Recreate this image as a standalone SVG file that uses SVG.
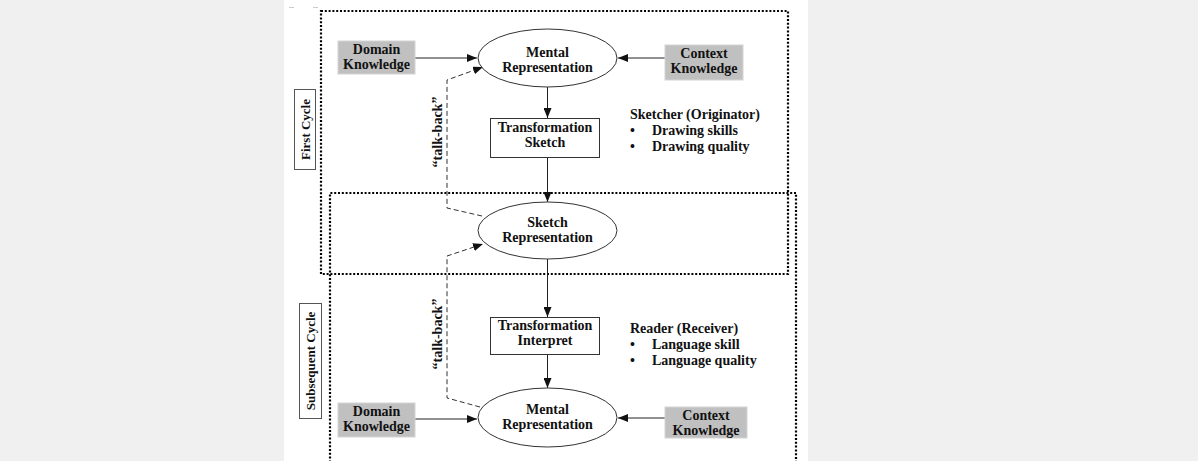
<svg xmlns="http://www.w3.org/2000/svg" width="1198" height="461" viewBox="0 0 1198 461">
  <defs>
    <marker id="arr" viewBox="0 0 10 8" refX="10" refY="4" markerWidth="10" markerHeight="8" markerUnits="userSpaceOnUse" orient="auto">
      <path d="M0,0 L10,4 L0,8 z" fill="#111"/>
    </marker>
    <style>
      text { font-family: "Liberation Serif", "Times New Roman", serif; font-weight: bold; font-size: 14px; fill: #111; }
      .small { font-size: 13px; }
      .mid { text-anchor: middle; }
      .gray { fill: #c0c0c0; stroke: #d4d4d4; stroke-width: 1; }
      .node { fill: #fff; stroke: #333; stroke-width: 1; }
      .dot { fill: none; stroke: #000; stroke-width: 2.2; stroke-dasharray: 2 1.8; }
      .line { fill: none; stroke: #222; stroke-width: 1; }
      .dash { fill: none; stroke: #333; stroke-width: 1; stroke-dasharray: 5 3; }
    </style>
  </defs>

  <!-- page background -->
  <rect x="0" y="0" width="1198" height="461" fill="#f0f0f0"/>
  <rect x="284" y="0" width="524" height="461" fill="#fff"/>
  <line x1="289" y1="7.5" x2="294" y2="7.5" stroke="#ccc" stroke-width="1"/>
  <line x1="313" y1="7.5" x2="318" y2="7.5" stroke="#ccc" stroke-width="1"/>

  <!-- cycle frames -->
  <g id="cycle-frames">
    <rect class="dot" x="321" y="11" width="467" height="263"/>
    <path class="dot" d="M330,470 V193 H796 V470"/>
  </g>

  <g id="label-first-cycle">
    <rect x="294.5" y="89.5" width="21" height="80" fill="#fff" stroke="#555"/>
    <text class="mid small" transform="translate(309.5,129.5) rotate(-90)">First Cycle</text>
  </g>
  <g id="label-subsequent-cycle">
    <rect x="299.5" y="303.5" width="22" height="115" fill="#fff" stroke="#555"/>
    <text class="mid small" transform="translate(315,361) rotate(-90)">Subsequent Cycle</text>
  </g>

  <!-- connectors -->
  <g id="connectors">
    <line class="line" x1="415" y1="58" x2="477" y2="58" marker-end="url(#arr)"/>
    <line class="line" x1="665" y1="58" x2="618" y2="58" marker-end="url(#arr)"/>
    <line class="line" x1="547.5" y1="87" x2="547.5" y2="118" marker-end="url(#arr)"/>
    <line class="line" x1="547.5" y1="158" x2="547.5" y2="202" marker-end="url(#arr)"/>
    <line class="line" x1="547.5" y1="259" x2="547.5" y2="317" marker-end="url(#arr)"/>
    <line class="line" x1="547.5" y1="354" x2="547.5" y2="388" marker-end="url(#arr)"/>
    <line class="line" x1="415" y1="419" x2="477" y2="419" marker-end="url(#arr)"/>
    <line class="line" x1="665" y1="418" x2="618" y2="418" marker-end="url(#arr)"/>
    <path class="dash" d="M482,216 L447,208 V80 L483,67" marker-end="url(#arr)"/>
    <path class="dash" d="M480,407 L447,398 V256 L483,244" marker-end="url(#arr)"/>
    <text class="mid" transform="translate(442,132) rotate(-90)">“talk-back”</text>
    <text class="mid" transform="translate(442,334) rotate(-90)">“talk-back”</text>
  </g>

  <!-- first cycle nodes -->
  <g id="domain-knowledge-1">
    <rect class="gray" x="338" y="41" width="77" height="33"/>
    <text class="mid" x="376.5" y="54">Domain</text>
    <text class="mid" x="376.5" y="69">Knowledge</text>
  </g>
  <g id="mental-representation-1">
    <ellipse class="node" cx="547.5" cy="58" rx="69.5" ry="29"/>
    <text class="mid" x="547.5" y="57">Mental</text>
    <text class="mid" x="547.5" y="72">Representation</text>
  </g>
  <g id="context-knowledge-1">
    <rect class="gray" x="665" y="45" width="78" height="35"/>
    <text class="mid" x="704" y="58">Context</text>
    <text class="mid" x="704" y="73">Knowledge</text>
  </g>
  <g id="transformation-sketch">
    <rect class="node" x="490.5" y="118.5" width="109" height="39"/>
    <text class="mid" x="545" y="132">Transformation</text>
    <text class="mid" x="545" y="147">Sketch</text>
  </g>
  <g id="sketcher-notes">
    <text x="630" y="119">Sketcher (Originator)</text>
    <text x="630" y="135">•</text>
    <text x="652" y="135">Drawing skills</text>
    <text x="630" y="151">•</text>
    <text x="652" y="151">Drawing quality</text>
  </g>

  <!-- shared node -->
  <g id="sketch-representation">
    <ellipse class="node" cx="547.5" cy="230.5" rx="69.5" ry="28.5"/>
    <text class="mid" x="547.5" y="227">Sketch</text>
    <text class="mid" x="547.5" y="242">Representation</text>
  </g>

  <!-- subsequent cycle nodes -->
  <g id="transformation-interpret">
    <rect class="node" x="490.5" y="317.5" width="109" height="37"/>
    <text class="mid" x="545" y="330">Transformation</text>
    <text class="mid" x="545" y="345">Interpret</text>
  </g>
  <g id="reader-notes">
    <text x="630" y="333">Reader (Receiver)</text>
    <text x="630" y="349">•</text>
    <text x="652" y="349">Language skill</text>
    <text x="630" y="365">•</text>
    <text x="652" y="365">Language quality</text>
  </g>
  <g id="domain-knowledge-2">
    <rect class="gray" x="338" y="403" width="77" height="34"/>
    <text class="mid" x="376.5" y="416">Domain</text>
    <text class="mid" x="376.5" y="431">Knowledge</text>
  </g>
  <g id="mental-representation-2">
    <ellipse class="node" cx="547.5" cy="417.5" rx="69.5" ry="29.5"/>
    <text class="mid" x="547.5" y="414">Mental</text>
    <text class="mid" x="547.5" y="429">Representation</text>
  </g>
  <g id="context-knowledge-2">
    <rect class="gray" x="665" y="407" width="82" height="31"/>
    <text class="mid" x="706" y="420">Context</text>
    <text class="mid" x="706" y="435">Knowledge</text>
  </g>
</svg>
